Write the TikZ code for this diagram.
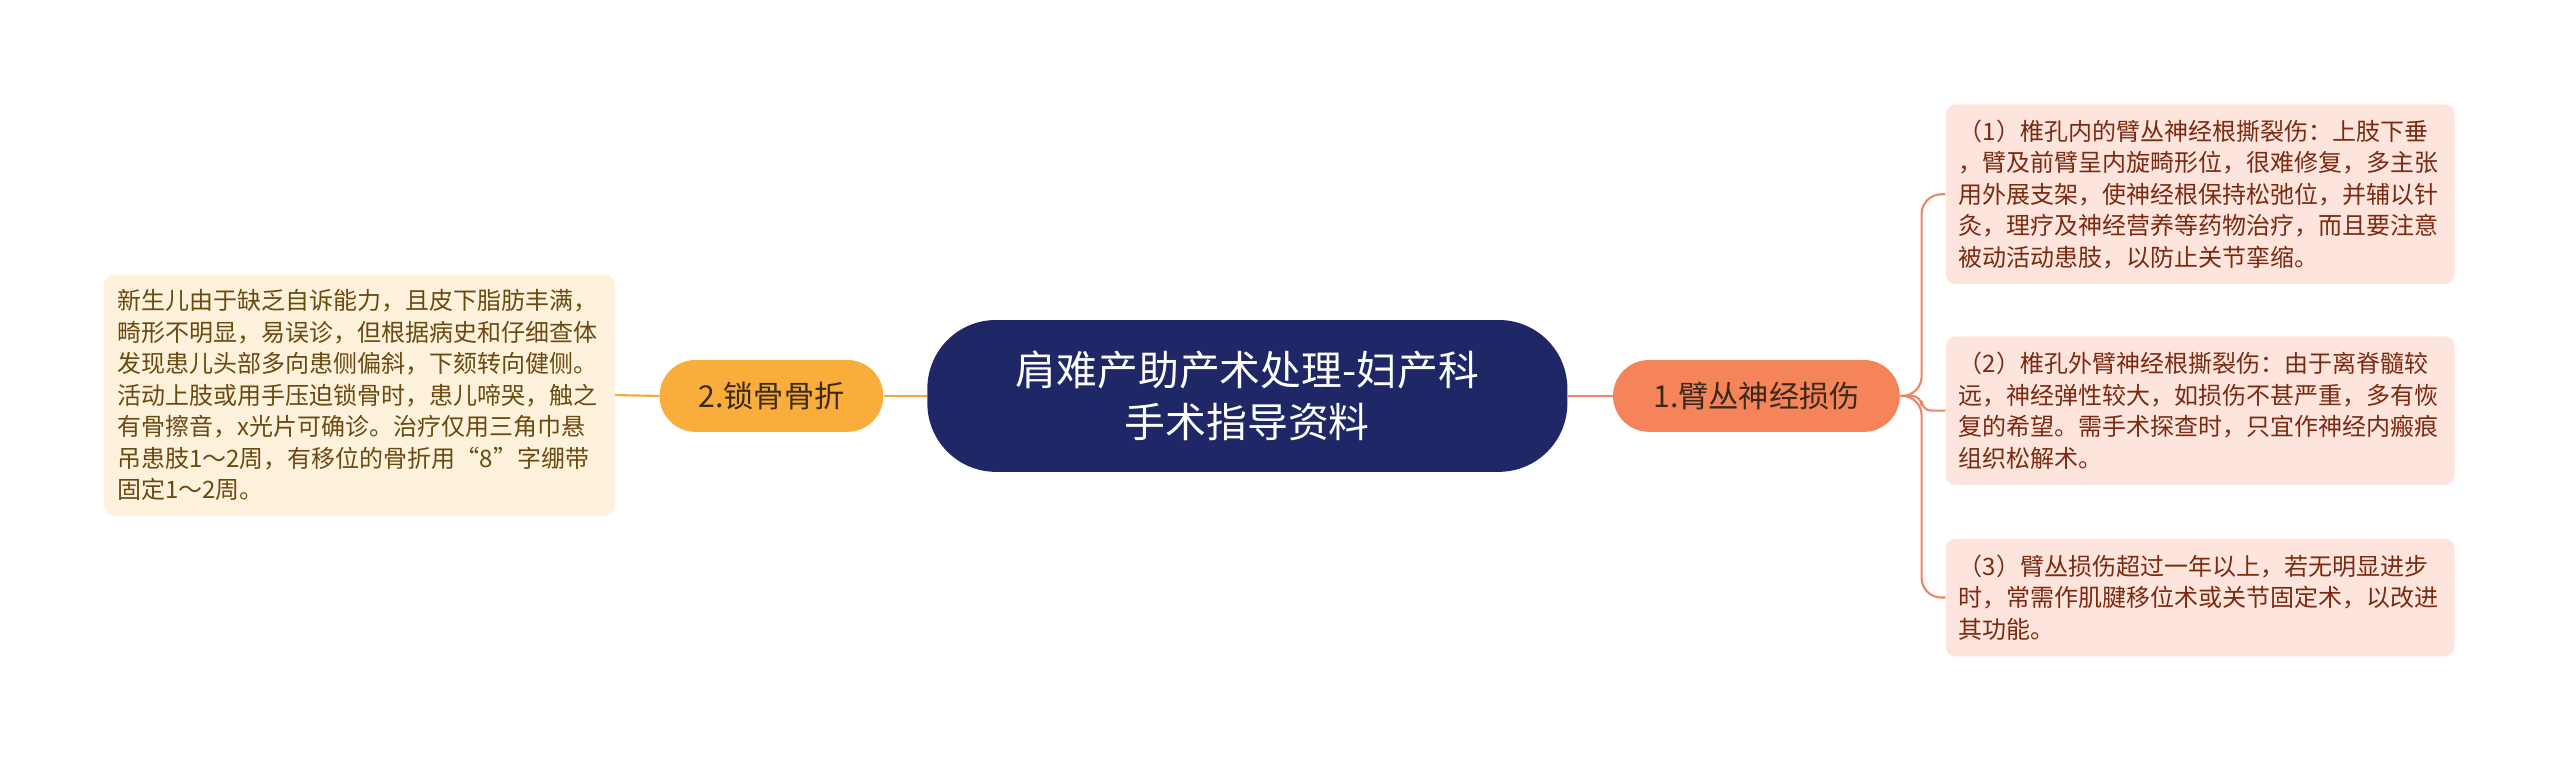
\documentclass[tikz,border=0pt]{standalone}
\usepackage{fontspec}
\setmainfont{Noto Sans CJK SC}
\definecolor{navy}{HTML}{1F2766}
\definecolor{salmon}{HTML}{F5845A}
\definecolor{amber}{HTML}{F9AD3A}
\definecolor{pinkleaf}{HTML}{FDE5DD}
\definecolor{creamleaf}{HTML}{FEF2DC}
\definecolor{redtext}{HTML}{7B2A10}
\definecolor{browntext}{HTML}{6B4A10}
\definecolor{salmonline}{HTML}{EE8663}
\definecolor{amberline}{HTML}{F5A93A}
\definecolor{darktext}{HTML}{3A2A1A}
\begin{document}
\begin{tikzpicture}[x=1pt,y=-1pt,
  rootnode/.style={fill=navy, text=white, rounded corners=42pt, minimum width=392pt, minimum height=93pt, inner sep=0pt, align=center, font=\fontsize{25pt}{31.6pt}\selectfont},
  midnode/.style={rounded corners=22pt, minimum height=44pt, inner sep=0pt, text=darktext, font=\fontsize{18.5pt}{22pt}\selectfont},
  leafbox/.style={rounded corners=6pt, inner xsep=8pt, inner ysep=0pt, align=left, font=\fontsize{14.7pt}{19.3pt}\selectfont},
  rleaf/.style={leafbox, fill=pinkleaf, text=redtext, text width=295.6pt, minimum width=311.6pt},
  lleaf/.style={leafbox, fill=creamleaf, text=browntext, text width=296.8pt, minimum width=312.8pt},
  rlink/.style={draw=salmonline, line width=1.3pt},
  llink/.style={draw=amberline, line width=1.3pt}
]
\useasboundingbox (0,0) rectangle (1568,466.1);
\fill[white] (0,0) rectangle (1568,466.1);

\node[rootnode] (root) at (764,242.5) {肩难产助产术处理-妇产科\\手术指导资料};
\node[midnode, fill=salmon, minimum width=175.6pt] (r1) at (1075.8,242.5) {1.臂丛神经损伤};
\node[midnode, fill=amber, minimum width=137pt] (l1) at (472.5,242.5) {2.锁骨骨折};

\node[lleaf, minimum height=148pt] (ll) at (220.2,242) {新生儿由于缺乏自诉能力，且皮下脂肪丰满，\\畸形不明显，易误诊，但根据病史和仔细查体\\发现患儿头部多向患侧偏斜，下颏转向健侧。\\活动上肢或用手压迫锁骨时，患儿啼哭，触之\\有骨擦音，x光片可确诊。治疗仅用三角巾悬\\吊患肢1～2周，有移位的骨折用“8”字绷带\\固定1～2周。};

\node[rleaf, minimum height=110pt] (a) at (1347.6,119) {（1）椎孔内的臂丛神经根撕裂伤：上肢下垂\\，臂及前臂呈内旋畸形位，很难修复，多主张\\用外展支架，使神经根保持松弛位，并辅以针\\灸，理疗及神经营养等药物治疗，而且要注意\\被动活动患肢，以防止关节挛缩。};
\node[rleaf, minimum height=91pt] (b) at (1347.6,251.5) {（2）椎孔外臂神经根撕裂伤：由于离脊髓较\\远，神经弹性较大，如损伤不甚严重，多有恢\\复的希望。需手术探查时，只宜作神经内瘢痕\\组织松解术。};
\node[rleaf, minimum height=72pt] (c) at (1347.6,366) {（3）臂丛损伤超过一年以上，若无明显进步\\时，常需作肌腱移位术或关节固定术，以改进\\其功能。};

\coordinate (fork) at (1177,242.5);

\draw[rlink] (root.east) -- (r1.west);
\draw[llink] (root.west) -- (l1.east);
\draw[llink] (l1.west) -- (ll.east);

\draw[rlink, rounded corners=12pt] (r1.east) -- (fork) |- (a.west);
\draw[rlink, rounded corners=6pt] (r1.east) -- (fork) |- (b.west);
\draw[rlink, rounded corners=12pt] (r1.east) -- (fork) |- (c.west);
\end{tikzpicture}
\end{document}
